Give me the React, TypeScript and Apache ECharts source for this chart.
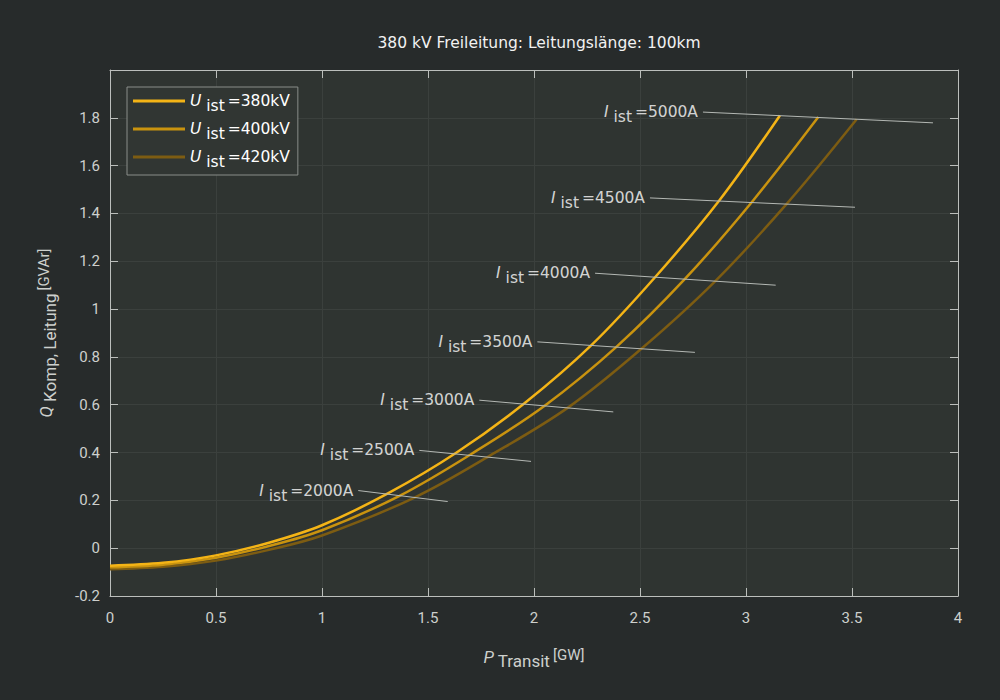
import React, { useEffect, useRef } from "react";
import * as echarts from "echarts";

const seriesNames = ["380kV", "400kV", "420kV"];
const seriesColors = ["#f4b416", "#c9930f", "#7d5c12"];

// [P_Transit GW, Q GVAr]
const curve380: [number, number][] = [
  [0, -0.073], [0.25, -0.061], [0.5, -0.03], [0.75, 0.023], [1.0, 0.096],
  [1.313, 0.23], [1.635, 0.4], [1.958, 0.608], [2.272, 0.85], [2.571, 1.133],
  [2.873, 1.453], [3.16, 1.81],
];
const curve400: [number, number][] = [
  [0, -0.08], [0.25, -0.069], [0.5, -0.04], [0.75, 0.009], [1.0, 0.075],
  [1.368, 0.22], [1.706, 0.395], [2.052, 0.597], [2.39, 0.843], [2.712, 1.126],
  [3.027, 1.447], [3.341, 1.803],
];
const curve420: [number, number][] = [
  [0, -0.088], [0.25, -0.078], [0.5, -0.052], [0.75, -0.007], [1.0, 0.053],
  [1.439, 0.213], [1.792, 0.387], [2.162, 0.589], [2.508, 0.835], [2.854, 1.116],
  [3.192, 1.44], [3.522, 1.794],
];
const curves = [curve380, curve400, curve420];

// iso-current lines
const isoCurrents = ["2000A", "2500A", "3000A", "3500A", "4000A", "4500A", "5000A"];
const isoStart: [number, number][] = [
  [1.171, 0.241], [1.459, 0.409], [1.742, 0.619], [2.016, 0.863], [2.288, 1.15], [2.547, 1.465], [2.797, 1.824],
];
const isoEnd: [number, number][] = [
  [1.593, 0.195], [1.986, 0.363], [2.374, 0.57], [2.759, 0.819], [3.14, 1.1], [3.514, 1.426], [3.882, 1.779],
];

const xTicks = [0, 0.5, 1, 1.5, 2, 2.5, 3, 3.5, 4];

const FONT = "Roboto";
const TFONT = "DejaVu Sans";

export default function App() {
  const ref = useRef<HTMLDivElement>(null);
  useEffect(() => {
    if (!ref.current) return;
    const chart = echarts.init(ref.current, undefined, { renderer: "svg" });
    const axisColor = "#bcbfbc";
    const labelColor = "#cdd0cd";
    const gridLine = "#3b403d";
    const white = "#ffffff";

    const richLabel = {
      i: { fontFamily: TFONT, fontSize: 15.5, fontStyle: "italic", color: white },
      s: { fontFamily: TFONT, fontSize: 15.5, color: white, padding: [10, 0, 0, 0] },
      n: { fontFamily: TFONT, fontSize: 15.5, color: white },
    };

    const series: any[] = curves.map((c, i) => ({
      name: seriesNames[i],
      type: "line",
      data: c,
      smooth: 0.35,
      symbol: "none",
      lineStyle: { color: seriesColors[i], width: 2.5 },
      itemStyle: { color: seriesColors[i] },
      z: 3 - i,
    }));

    isoCurrents.forEach((name, i) => {
      series.push({
        name: "iso" + name,
        type: "line",
        data: [isoStart[i], isoEnd[i]],
        symbol: "none",
        lineStyle: { color: "#b4b8b4", width: 1 },
        z: 5,
        silent: true,
      });
    });

    series.push({
      name: "isoLabels",
      type: "scatter",
      symbolSize: 0,
      data: isoStart.map((p, i) => ({ value: p, name: isoCurrents[i] })),
      label: {
        show: true,
        position: "left",
        distance: 5,
        formatter: (p: any) => `{i|I}{s| ist} {n|=${p.name}}`,
        rich: richLabel,
      },
      z: 6,
      silent: true,
    });

    const nameRich = {
      i: { fontFamily: FONT, fontSize: 17, fontStyle: "italic", color: labelColor },
      s: { fontFamily: FONT, fontSize: 17, color: labelColor, padding: [8, 0, 0, 0] },
      u: { fontFamily: FONT, fontSize: 15, color: labelColor, padding: [0, 0, 4, 0] },
    };

    const option: any = {
      animation: false,
      backgroundColor: "#272b2b",
      textStyle: { fontFamily: FONT },
      title: {
        text: "380 kV Freileitung: Leitungslänge: 100km",
        left: 534,
        textAlign: "center",
        top: 30,
        textStyle: { color: "#f2f2f2", fontSize: 15.5, fontWeight: "normal", fontFamily: TFONT },
      },
      legend: {
        data: seriesNames,
        left: 127,
        top: 87,
        orient: "vertical",
        icon: "rect",
        itemWidth: 52,
        itemHeight: 3,
        itemGap: 7,
        padding: [6, 8, 5, 6],
        backgroundColor: "#313633",
        borderColor: "#8a8d8a",
        borderWidth: 1,
        formatter: (n: string) => `{i|U}{s| ist} {n|=${n}}`,
        textStyle: { color: white, rich: richLabel },
      },
      grid: {
        left: 110,
        right: 42,
        top: 70,
        bottom: 104,
        show: true,
        backgroundColor: "#2f3431",
        borderWidth: 0,
      },
      xAxis: [
        {
          type: "value",
          min: 0,
          max: 4,
          interval: 0.5,
          position: "bottom",
          name: "{i|P}{s| Transit} {u|[GW]}",
          nameLocation: "middle",
          nameGap: 48,
          nameTextStyle: { rich: nameRich },
          axisLine: { show: true, onZero: false, lineStyle: { color: axisColor, width: 1 } },
          axisTick: { show: true, inside: true, length: 8, lineStyle: { color: axisColor } },
          axisLabel: {
            color: labelColor,
            fontSize: 15,
            fontFamily: FONT,
            margin: 14,
            formatter: (v: number) => (xTicks.indexOf(v) >= 0 ? String(v) : ""),
          },
          splitLine: { show: true, lineStyle: { color: gridLine, width: 1 } },
        },
        {
          type: "value",
          min: 0,
          max: 4,
          interval: 0.5,
          position: "top",
          axisLine: { show: true, onZero: false, lineStyle: { color: axisColor, width: 1 } },
          axisTick: { show: true, inside: true, length: 8, lineStyle: { color: axisColor } },
          axisLabel: { show: false },
          splitLine: { show: false },
        },
      ],
      yAxis: [
        {
          type: "value",
          min: -0.2,
          max: 2.0,
          interval: 0.2,
          position: "left",
          name: "{i|Q}{s| Komp, Leitung} {u|[GVAr]}",
          nameLocation: "middle",
          nameGap: 52,
          nameRotate: 90,
          nameTextStyle: { rich: nameRich },
          axisLine: { show: true, onZero: false, lineStyle: { color: axisColor, width: 1 } },
          axisTick: { show: true, inside: true, length: 8, lineStyle: { color: axisColor } },
          axisLabel: {
            color: labelColor,
            fontSize: 15,
            fontFamily: FONT,
            margin: 10,
            formatter: (v: number) => {
              const r = Math.round(v * 10) / 10;
              if (r >= 2) return "";
              return String(r);
            },
          },
          splitLine: { show: true, lineStyle: { color: gridLine, width: 1 } },
        },
        {
          type: "value",
          min: -0.2,
          max: 2.0,
          interval: 0.2,
          position: "right",
          axisLine: { show: true, onZero: false, lineStyle: { color: axisColor, width: 1 } },
          axisTick: { show: true, inside: true, length: 8, lineStyle: { color: axisColor } },
          axisLabel: { show: false },
          splitLine: { show: false },
        },
      ],
      series,
    };
    chart.setOption(option);
    return () => chart.dispose();
  }, []);
  return <div ref={ref} style={{ width: 1000, height: 700, position: "absolute", left: 0, top: 0 }} />;
}
